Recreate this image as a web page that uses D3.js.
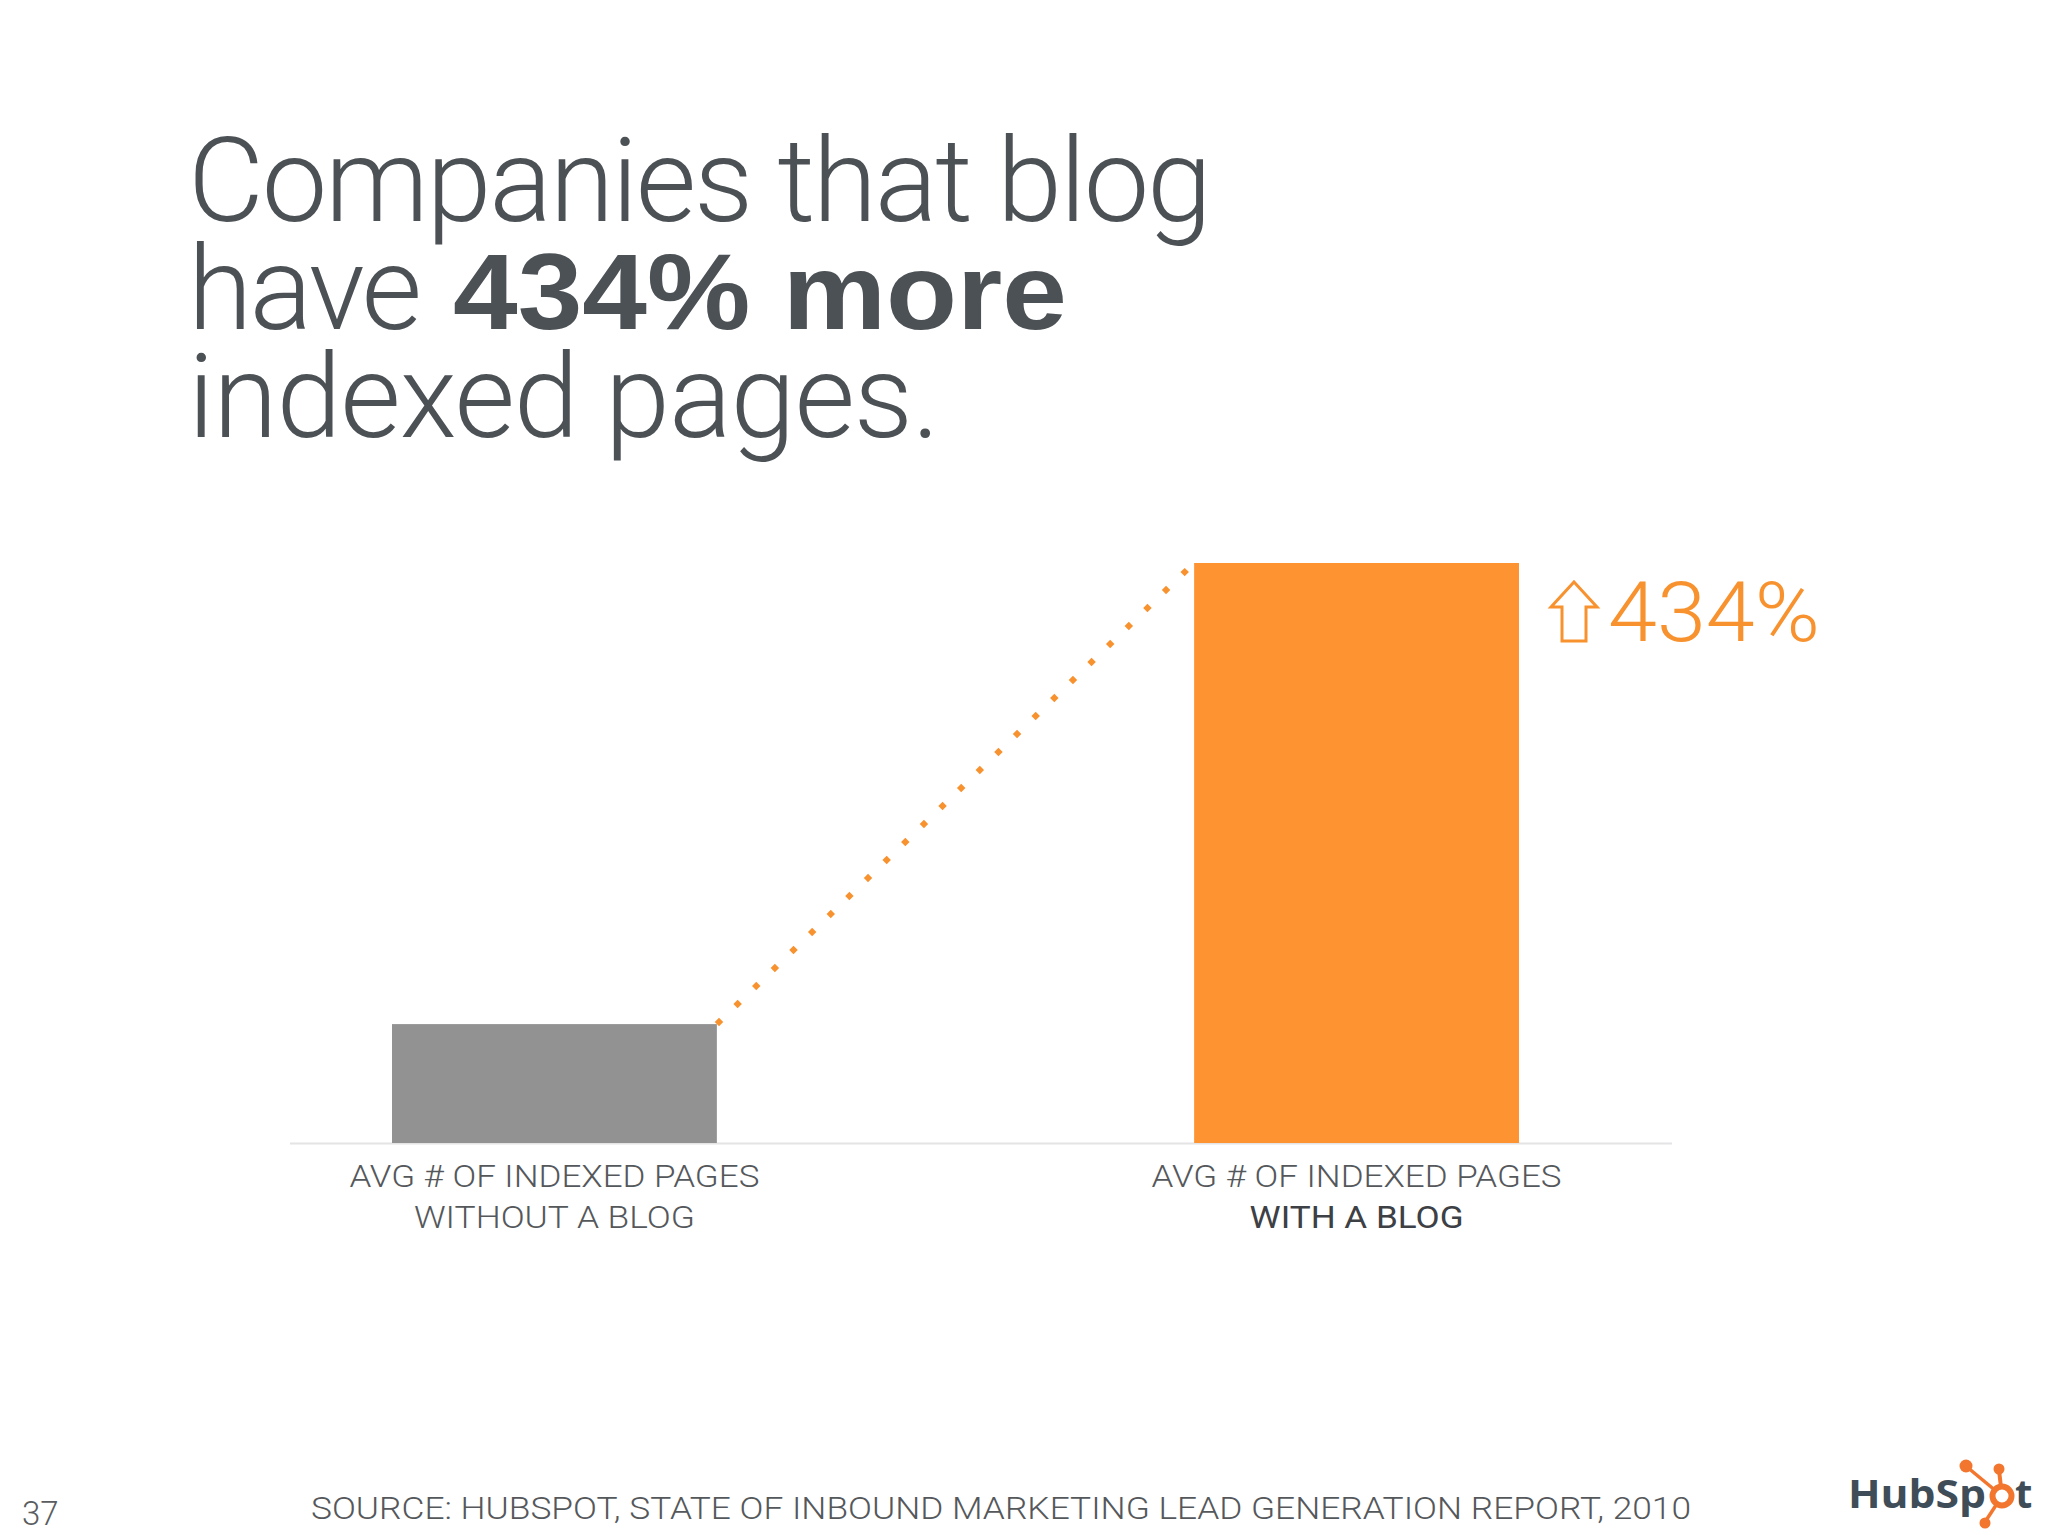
<!DOCTYPE html>
<html>
<head>
<meta charset="utf-8">
<script src="https://cdn.jsdelivr.net/npm/d3@7/dist/d3.min.js"></script>
<style>
  html, body { margin: 0; padding: 0; background: #ffffff; }
  svg { display: block; }
</style>
</head>
<body>
<svg id="chart" width="2048" height="1536"></svg>
<script>
// ---- data ----
const categories = ["without", "with"];
const labelLine1 = ["AVG # OF INDEXED PAGES", "AVG # OF INDEXED PAGES"];
const labelLine2 = ["WITHOUT A BLOG", "WITH A BLOG"];
const values = [20.5, 100];          // relative height (with blog = 100)
const barColors = ["#929293", "#fd9431"];
const increaseLabel = "434%";
const titleLines = ["Companies that blog", "have", "434% more", "indexed pages."];
const sourceText = "SOURCE: HUBSPOT, STATE OF INBOUND MARKETING LEAD GENERATION REPORT, 2010";
const pageNumber = "37";

const W = 2048, H = 1536;
const svg = d3.select("#chart");
svg.append("rect").attr("width", W).attr("height", H).attr("fill", "#ffffff");

const titleColor = "#4c5156";
const orange = "#f7922f";
const lightFont = "Roboto, 'Liberation Sans', sans-serif";

// ---- title (one text element, lines as tspans) ----
const title = svg.append("text")
  .attr("font-family", lightFont).attr("fill", titleColor)
  .attr("font-size", 117).attr("font-weight", 300);
title.append("tspan").attr("x", 188).attr("y", 221)
  .attr("textLength", 1024).attr("lengthAdjust", "spacing")
  .text(titleLines[0]);
title.append("tspan").attr("x", 188).attr("y", 329)
  .attr("textLength", 234).attr("lengthAdjust", "spacing")
  .text(titleLines[1]);
title.append("tspan").attr("x", 453).attr("y", 329)
  .attr("font-family", "'Liberation Sans', Arial, sans-serif")
  .attr("font-size", 108).attr("font-weight", 700)
  .attr("textLength", 614).attr("lengthAdjust", "spacingAndGlyphs")
  .text(titleLines[2]);
title.append("tspan").attr("x", 188).attr("y", 437)
  .attr("textLength", 752).attr("lengthAdjust", "spacing")
  .text(titleLines[3]);

// ---- scales ----
const x = d3.scaleBand().domain(categories).range([392, 1519]).paddingInner(0.595).paddingOuter(0);
const y = d3.scaleLinear().domain([0, 100]).range([1143, 563]);
const bw = x.bandwidth();

// baseline
svg.append("line")
  .attr("x1", 290).attr("x2", 1672)
  .attr("y1", y(0) + 0.5).attr("y2", y(0) + 0.5)
  .attr("stroke", "#e4e4e6").attr("stroke-width", 2);

// bars
svg.selectAll("rect.bar").data(categories).join("rect")
  .attr("class", "bar")
  .attr("x", d => x(d))
  .attr("y", (d, i) => y(values[i]))
  .attr("width", bw)
  .attr("height", (d, i) => y(0) - y(values[i]))
  .attr("fill", (d, i) => barColors[i]);

// dotted connector from top-right of first bar to top-left of second
const p0 = [x(categories[0]) + bw, y(values[0])];
const p1 = [x(categories[1]), y(values[1])];
const len = Math.hypot(p1[0] - p0[0], p1[1] - p0[1]);
const step = 25.9;
const dots = d3.range(3, len - 8, step).map(s => [p0[0] + (p1[0] - p0[0]) * s / len, p0[1] + (p1[1] - p0[1]) * s / len]);
svg.selectAll("path.dot").data(dots).join("path")
  .attr("class", "dot")
  .attr("d", d3.symbol(d3.symbolSquare, 36)())
  .attr("transform", d => `translate(${d[0]},${d[1]}) rotate(45)`)
  .attr("fill", orange);

// increase label with outline arrow
const lx = x(categories[1]) + bw + 31;
const ly = y(values[1]) + 78;
svg.append("path")
  .attr("d", `M${lx + 24},${ly - 59} L${lx + 47},${ly - 34} L${lx + 36},${ly - 34} L${lx + 36},${ly} L${lx + 12},${ly} L${lx + 12},${ly - 34} L${lx + 1},${ly - 34} Z`)
  .attr("fill", "none").attr("stroke", orange).attr("stroke-width", 3)
  .attr("stroke-linejoin", "miter");
svg.append("text").attr("x", lx + 58).attr("y", ly)
  .attr("font-family", lightFont).attr("font-weight", 300).attr("font-size", 84)
  .attr("fill", orange)
  .attr("textLength", 212).attr("lengthAdjust", "spacingAndGlyphs")
  .text(increaseLabel);

// category labels
const line2Len = [281, 214];
const lab = svg.append("g").attr("font-family", lightFont).attr("text-anchor", "middle");
lab.selectAll("text.l1").data(categories).join("text")
  .attr("class", "l1")
  .attr("x", d => x(d) + bw / 2).attr("y", y(0) + 44)
  .attr("font-size", 31).attr("font-weight", 300).attr("fill", "#55585b")
  .attr("textLength", 410).attr("lengthAdjust", "spacingAndGlyphs")
  .text((d, i) => labelLine1[i]);
lab.selectAll("text.l2").data(categories).join("text")
  .attr("class", "l2")
  .attr("x", d => x(d) + bw / 2).attr("y", y(0) + 85)
  .attr("font-size", 31)
  .attr("font-weight", (d, i) => i === 1 ? 400 : 300)
  .attr("fill", (d, i) => i === 1 ? "#3d4044" : "#55585b")
  .attr("textLength", (d, i) => line2Len[i]).attr("lengthAdjust", "spacingAndGlyphs")
  .text((d, i) => labelLine2[i]);

// footer
svg.append("text").attr("x", 22).attr("y", 1525)
  .attr("font-family", lightFont).attr("font-weight", 300).attr("font-size", 33)
  .attr("fill", "#5a5d60").text(pageNumber);
svg.append("text").attr("x", 311).attr("y", 1519)
  .attr("font-family", lightFont).attr("font-weight", 300).attr("font-size", 31)
  .attr("fill", "#55585b")
  .attr("textLength", 1380).attr("lengthAdjust", "spacingAndGlyphs")
  .text(sourceText);

// HubSpot logo
const logo = svg.append("g");
const slate = "#3f4d58", lo = "#f2762e";
logo.append("text").attr("x", 1848).attr("y", 1508)
  .attr("font-family", "'Open Sans', Lato, sans-serif").attr("font-weight", 700)
  .attr("font-size", 40).attr("fill", slate)
  .attr("textLength", 138).attr("lengthAdjust", "spacingAndGlyphs")
  .text("HubSp");
logo.append("line").attr("x1", 2002).attr("y1", 1496).attr("x2", 1999).attr("y2", 1470)
  .attr("stroke", lo).attr("stroke-width", 4);
logo.append("line").attr("x1", 2002).attr("y1", 1496).attr("x2", 1967).attr("y2", 1467)
  .attr("stroke", lo).attr("stroke-width", 3.5);
logo.append("line").attr("x1", 2002).attr("y1", 1496).attr("x2", 1985).attr("y2", 1522)
  .attr("stroke", lo).attr("stroke-width", 3.5);
logo.append("circle").attr("cx", 2002).attr("cy", 1496).attr("r", 9.5)
  .attr("fill", "#ffffff").attr("stroke", lo).attr("stroke-width", 6);
logo.append("circle").attr("cx", 1999).attr("cy", 1469).attr("r", 5.5).attr("fill", lo);
logo.append("circle").attr("cx", 1966).attr("cy", 1466).attr("r", 6.5).attr("fill", lo);
logo.append("circle").attr("cx", 1985).attr("cy", 1523).attr("r", 5.5).attr("fill", lo);
logo.append("text").attr("x", 2015).attr("y", 1508)
  .attr("font-family", "'Open Sans', Lato, sans-serif").attr("font-weight", 700)
  .attr("font-size", 40).attr("fill", slate)
  .text("t");
</script>
</body>
</html>
